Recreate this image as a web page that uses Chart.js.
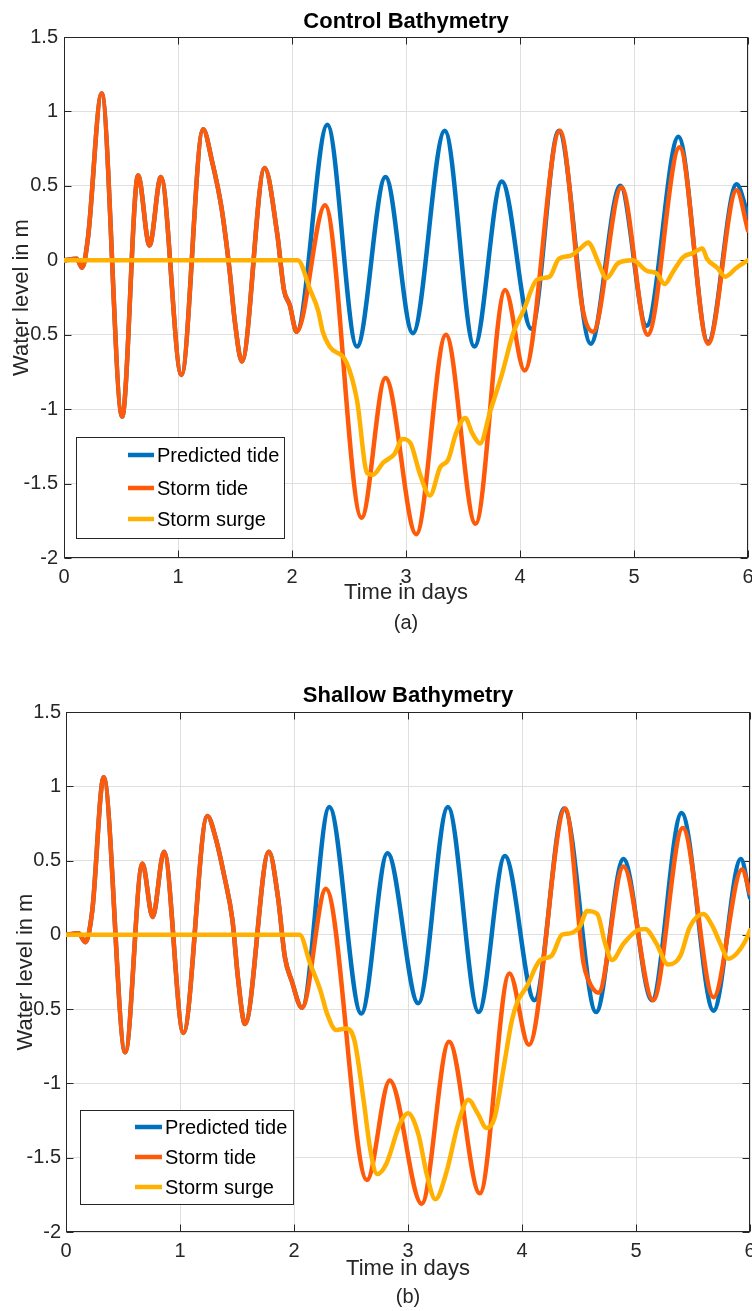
<!DOCTYPE html>
<html><head><meta charset="utf-8">
<script src="https://cdn.jsdelivr.net/npm/chart.js@4.4.1/dist/chart.umd.min.js"></script>
<style>
html,body{margin:0;padding:0;background:#fff;}
#wrap{position:relative;width:752px;height:1311px;overflow:hidden;background:#fff;}
canvas{position:absolute;left:0;display:block;}
</style></head><body>
<div id="wrap">
<canvas id="c1" width="752" height="655" style="top:0px"></canvas>
<canvas id="c2" width="752" height="656" style="top:655px"></canvas>
</div>
<script>
// ---------- data ----------
const xTickValues = [0, 1, 2, 3, 4, 5, 6];
const xTickLabels = ['0', '1', '2', '3', '4', '5', '6'];
const yTickValues = [-2, -1.5, -1, -0.5, 0, 0.5, 1, 1.5];
const yTickLabels = ['-2', '-1.5', '-1', '-0.5', '0', '0.5', '1', '1.5'];
const seriesNames = ['Predicted tide', 'Storm tide', 'Storm surge'];
const panelTitles = ['Control Bathymetry', 'Shallow Bathymetry'];
const panelCaptions = ['(a)', '(b)'];
const xAxisTitle = 'Time in days';
const yAxisTitle = 'Water level in m';

// Control bathymetry
const controlPredictedT = [0, 0.11, 0.16, 0.21, 0.33, 0.51, 0.65, 0.75, 0.85, 1.03, 1.22, 1.30, 1.38, 1.45, 1.50, 1.56, 1.76, 1.87, 1.93, 1.98, 2.04,
  2.31, 2.57, 2.82, 3.06, 3.34, 3.60, 3.84, 4.10, 4.34, 4.62, 4.88, 5.11, 5.39, 5.65, 5.90, 6.00];
const controlPredictedV = [0, 0.01, -0.05, 0.15, 1.12, -1.05, 0.57, 0.10, 0.56, -0.77, 0.88, 0.66, 0.36, -0.05, -0.42, -0.68, 0.62, 0.18, -0.20, -0.30, -0.48,
  0.91, -0.58, 0.56, -0.49, 0.87, -0.58, 0.53, -0.46, 0.87, -0.56, 0.50, -0.44, 0.83, -0.55, 0.51, 0.30];
const controlStormT = [0, 0.11, 0.16, 0.21, 0.33, 0.51, 0.65, 0.75, 0.85, 1.03, 1.22, 1.30, 1.38, 1.45, 1.50, 1.56, 1.76, 1.87, 1.93, 1.98, 2.04,
  2.29, 2.61, 2.82, 3.09, 3.35, 3.61, 3.87, 4.04, 4.35, 4.55, 4.64, 4.89, 5.12, 5.40, 5.65, 5.90, 6.00];
const controlStormV = [0, 0.01, -0.05, 0.15, 1.12, -1.05, 0.57, 0.10, 0.56, -0.77, 0.88, 0.66, 0.36, -0.05, -0.42, -0.68, 0.62, 0.18, -0.20, -0.30, -0.48,
  0.37, -1.73, -0.79, -1.84, -0.50, -1.77, -0.20, -0.74, 0.87, -0.33, -0.48, 0.49, -0.50, 0.76, -0.56, 0.47, 0.20];
const controlSurgeT = [0, 2.05, 2.16, 2.23, 2.27, 2.33, 2.48, 2.57, 2.66, 2.71, 2.80, 2.90, 2.97, 3.04, 3.12, 3.21, 3.30, 3.37, 3.44, 3.52,
  3.58, 3.65, 3.74, 3.84, 3.94, 4.03, 4.15, 4.26, 4.34, 4.44, 4.53, 4.60, 4.63, 4.69, 4.76, 4.86, 4.99, 5.11, 5.20, 5.27,
  5.34, 5.43, 5.52, 5.60, 5.64, 5.73, 5.80, 5.90, 6.00];
const controlSurgeV = [0, 0, -0.20, -0.34, -0.48, -0.58, -0.69, -0.94, -1.43, -1.44, -1.36, -1.30, -1.20, -1.23, -1.43, -1.58, -1.39, -1.34, -1.16, -1.06,
  -1.16, -1.23, -1.01, -0.77, -0.49, -0.34, -0.13, -0.11, 0.01, 0.03, 0.08, 0.12, 0.09, -0.02, -0.12, -0.02, 0.00, -0.07, -0.09, -0.16,
  -0.08, 0.02, 0.05, 0.08, 0.01, -0.05, -0.11, -0.05, 0.00];

// Shallow bathymetry
const shallowPredictedT = [0, 0.11, 0.17, 0.23, 0.33, 0.52, 0.67, 0.76, 0.86, 1.03, 1.24, 1.31, 1.39, 1.46, 1.51, 1.57, 1.78, 1.86, 1.92, 1.98, 2.07,
  2.31, 2.59, 2.82, 3.09, 3.35, 3.62, 3.85, 4.11, 4.37, 4.65, 4.89, 5.14, 5.40, 5.68, 5.92, 6.00];
const shallowPredictedV = [0, 0.01, -0.05, 0.16, 1.06, -0.79, 0.48, 0.12, 0.56, -0.66, 0.80, 0.66, 0.39, 0.10, -0.30, -0.60, 0.56, 0.25, -0.15, -0.31, -0.49,
  0.86, -0.53, 0.55, -0.46, 0.86, -0.52, 0.53, -0.44, 0.85, -0.52, 0.51, -0.44, 0.82, -0.51, 0.51, 0.25];
const shallowStormT = [0, 0.11, 0.17, 0.23, 0.33, 0.52, 0.67, 0.76, 0.86, 1.03, 1.24, 1.31, 1.39, 1.46, 1.51, 1.57, 1.78, 1.86, 1.92, 1.98, 2.07,
  2.28, 2.64, 2.84, 3.12, 3.36, 3.63, 3.89, 4.06, 4.38, 4.54, 4.58, 4.67, 4.89, 5.15, 5.41, 5.68, 5.93, 6.00];
const shallowStormV = [0, 0.01, -0.05, 0.16, 1.06, -0.79, 0.48, 0.12, 0.56, -0.66, 0.80, 0.66, 0.39, 0.10, -0.30, -0.60, 0.56, 0.25, -0.15, -0.31, -0.49,
  0.31, -1.65, -0.98, -1.81, -0.72, -1.74, -0.26, -0.74, 0.85, -0.19, -0.30, -0.39, 0.46, -0.44, 0.72, -0.42, 0.44, 0.28];
const shallowSurgeT = [0, 2.05, 2.14, 2.23, 2.29, 2.37, 2.46, 2.53, 2.61, 2.67, 2.73, 2.81, 2.93, 3.00, 3.09, 3.17, 3.24, 3.34, 3.44, 3.53,
  3.61, 3.69, 3.76, 3.84, 3.91, 3.96, 4.04, 4.16, 4.26, 4.35, 4.42, 4.51, 4.57, 4.66, 4.73, 4.79, 4.89, 5.01, 5.08, 5.18,
  5.28, 5.39, 5.47, 5.59, 5.67, 5.74, 5.81, 5.89, 5.96, 6.00];
const shallowSurgeV = [0, 0, -0.19, -0.37, -0.53, -0.64, -0.63, -0.71, -1.11, -1.45, -1.61, -1.54, -1.27, -1.20, -1.34, -1.63, -1.78, -1.59, -1.27, -1.11,
  -1.20, -1.30, -1.23, -0.89, -0.58, -0.45, -0.35, -0.17, -0.14, 0.00, 0.01, 0.06, 0.16, 0.14, -0.06, -0.17, -0.06, 0.03, 0.04, -0.06,
  -0.20, -0.14, 0.05, 0.14, 0.06, -0.06, -0.16, -0.12, -0.04, 0.03];

// ---------- styling ----------
const COLORS = ['#0072BD', '#FF5A0A', '#FFB000'];
const WIDTHS = [4.5, 4.5, 4.5];
const AXIS = '#262626';
const GRID = '#dfdfdf';
Chart.defaults.font.family = "'Liberation Sans', Arial, Helvetica, sans-serif";

function zip(ts, vs) { return ts.map((t, i) => ({x: t, y: vs[i]})); }

function makeDatasets(series) {
  return series.map((s, i) => ({
    label: seriesNames[i],
    data: zip(s[0], s[1]),
    borderColor: COLORS[i],
    backgroundColor: COLORS[i],
    borderWidth: WIDTHS[i],
    pointRadius: 0,
    fill: false,
    cubicInterpolationMode: 'monotone',
    borderJoinStyle: 'round',
    borderCapStyle: 'round',
    order: 3 - i
  }));
}

const matlabFrame = {
  id: 'matlabFrame',
  beforeDraw(chart) {
    const ctx = chart.ctx;
    ctx.save();
    ctx.fillStyle = '#fff';
    ctx.fillRect(0, 0, chart.width, chart.height);
    ctx.restore();
  },
  beforeDatasetsDraw(chart) {
    const {ctx, chartArea: a, scales: {x, y}} = chart;
    const L = Math.round(a.left) + 0.5, R = Math.round(a.right) - 0.5;
    const T = Math.round(a.top) + 0.5, B = Math.round(a.bottom) - 0.5;
    ctx.save();
    ctx.strokeStyle = AXIS;
    ctx.lineWidth = 1;
    ctx.beginPath();
    const tl = 7;
    x.ticks.forEach(t => {
      const px = Math.round(x.getPixelForValue(t.value)) + 0.5;
      ctx.moveTo(px, B); ctx.lineTo(px, B - tl);
      ctx.moveTo(px, T); ctx.lineTo(px, T + tl);
    });
    y.ticks.forEach(t => {
      const py = Math.round(y.getPixelForValue(t.value)) + 0.5;
      ctx.moveTo(L, py); ctx.lineTo(L + tl, py);
      ctx.moveTo(R, py); ctx.lineTo(R - tl, py);
    });
    ctx.stroke();
    ctx.strokeRect(L, T, R - L, B - T);
    ctx.restore();
  },
  afterDraw(chart, args, opts) {
    const {ctx, chartArea: a} = chart;
    const lg = opts.legend;
    ctx.save();
    // legend
    ctx.fillStyle = '#fff';
    ctx.fillRect(lg.x, lg.y, lg.w, lg.h);
    ctx.strokeStyle = AXIS;
    ctx.lineWidth = 1;
    ctx.strokeRect(lg.x + 0.5, lg.y + 0.5, lg.w, lg.h);
    ctx.font = "20px 'Liberation Sans', Arial, Helvetica, sans-serif";
    ctx.textBaseline = 'middle';
    ctx.textAlign = 'left';
    chart.data.datasets.forEach((ds, i) => {
      const ry = lg.rows[i];
      ctx.strokeStyle = ds.borderColor;
      ctx.lineWidth = 4.5;
      ctx.lineCap = 'butt';
      ctx.beginPath();
      ctx.moveTo(lg.lineX0, ry); ctx.lineTo(lg.lineX1, ry);
      ctx.stroke();
      ctx.fillStyle = '#000';
      ctx.fillText(ds.label, lg.textX, ry + 1);
    });
    // caption
    ctx.fillStyle = AXIS;
    ctx.textAlign = 'center';
    ctx.font = "20px 'Liberation Sans', Arial, Helvetica, sans-serif";
    ctx.fillText(opts.caption, (a.left + a.right) / 2, opts.captionY);
    ctx.restore();
  }
};

function makeChart(id, p) {
  return new Chart(document.getElementById(id), {
    type: 'line',
    data: {datasets: makeDatasets(p.series)},
    options: {
      responsive: false,
      animation: false,
      events: [],
      layout: {padding: {left: 0, top: 0, right: p.padRight, bottom: 0}, autoPadding: false},
      plugins: {
        legend: {display: false},
        tooltip: {enabled: false},
        title: {
          display: true, text: p.title, fullSize: false, color: '#000',
          font: {size: 22, weight: 'bold'},
          padding: {top: p.titleTop, bottom: p.titleBottom}
        },
        matlabFrame: {legend: p.legend, caption: p.caption, captionY: p.captionY}
      },
      scales: {
        x: {
          type: 'linear', min: 0, max: 6,
          afterBuildTicks: s => { s.ticks = xTickValues.map(v => ({value: v})); },
          afterFit: s => { s.height = p.xAxisHeight; s.paddingLeft = 0; s.paddingRight = 0; },
          ticks: {callback: (v, i) => xTickLabels[i], color: AXIS, font: {size: 20}, padding: 7, maxRotation: 0, autoSkip: false},
          grid: {color: GRID, lineWidth: 1, drawTicks: false},
          border: {display: false},
          title: {display: true, text: xAxisTitle, color: AXIS, font: {size: 22}, padding: {top: 0, bottom: p.xTitleBottom}}
        },
        y: {
          type: 'linear', min: -2, max: 1.5,
          afterBuildTicks: s => { s.ticks = yTickValues.map(v => ({value: v})); },
          afterFit: s => { s.width = p.yAxisWidth; },
          ticks: {callback: (v, i) => yTickLabels[i], color: AXIS, font: {size: 20}, padding: p.yTickPad, autoSkip: false},
          grid: {color: GRID, lineWidth: 1, drawTicks: false},
          border: {display: false},
          title: {display: true, text: yAxisTitle, color: AXIS, font: {size: 22}, padding: {top: p.yTitleTop, bottom: 0}}
        }
      }
    },
    plugins: [matlabFrame]
  });
}

makeChart('c1', {
  series: [[controlPredictedT, controlPredictedV], [controlStormT, controlStormV], [controlSurgeT, controlSurgeV]],
  title: panelTitles[0], caption: panelCaptions[0], captionY: 623,
  padRight: 4, xAxisHeight: 97, yAxisWidth: 64,
  titleTop: 8.5, titleBottom: 2.1, xTitleBottom: 48.8, yTitleTop: 8.3, yTickPad: 6,
  legend: {x: 76, y: 437, w: 208, h: 101, rows: [455, 488, 519], lineX0: 128, lineX1: 154, textX: 157}
});
makeChart('c2', {
  series: [[shallowPredictedT, shallowPredictedV], [shallowStormT, shallowStormV], [shallowSurgeT, shallowSurgeV]],
  title: panelTitles[1], caption: panelCaptions[1], captionY: 642,
  padRight: 2, xAxisHeight: 79, yAxisWidth: 66,
  titleTop: 27.5, titleBottom: 3.1, xTitleBottom: 28.8, yTitleTop: 12.3, yTickPad: 5,
  legend: {x: 80, y: 455, w: 213, h: 94, rows: [472, 502, 532], lineX0: 135, lineX1: 162, textX: 165}
});
</script>
</body></html>
